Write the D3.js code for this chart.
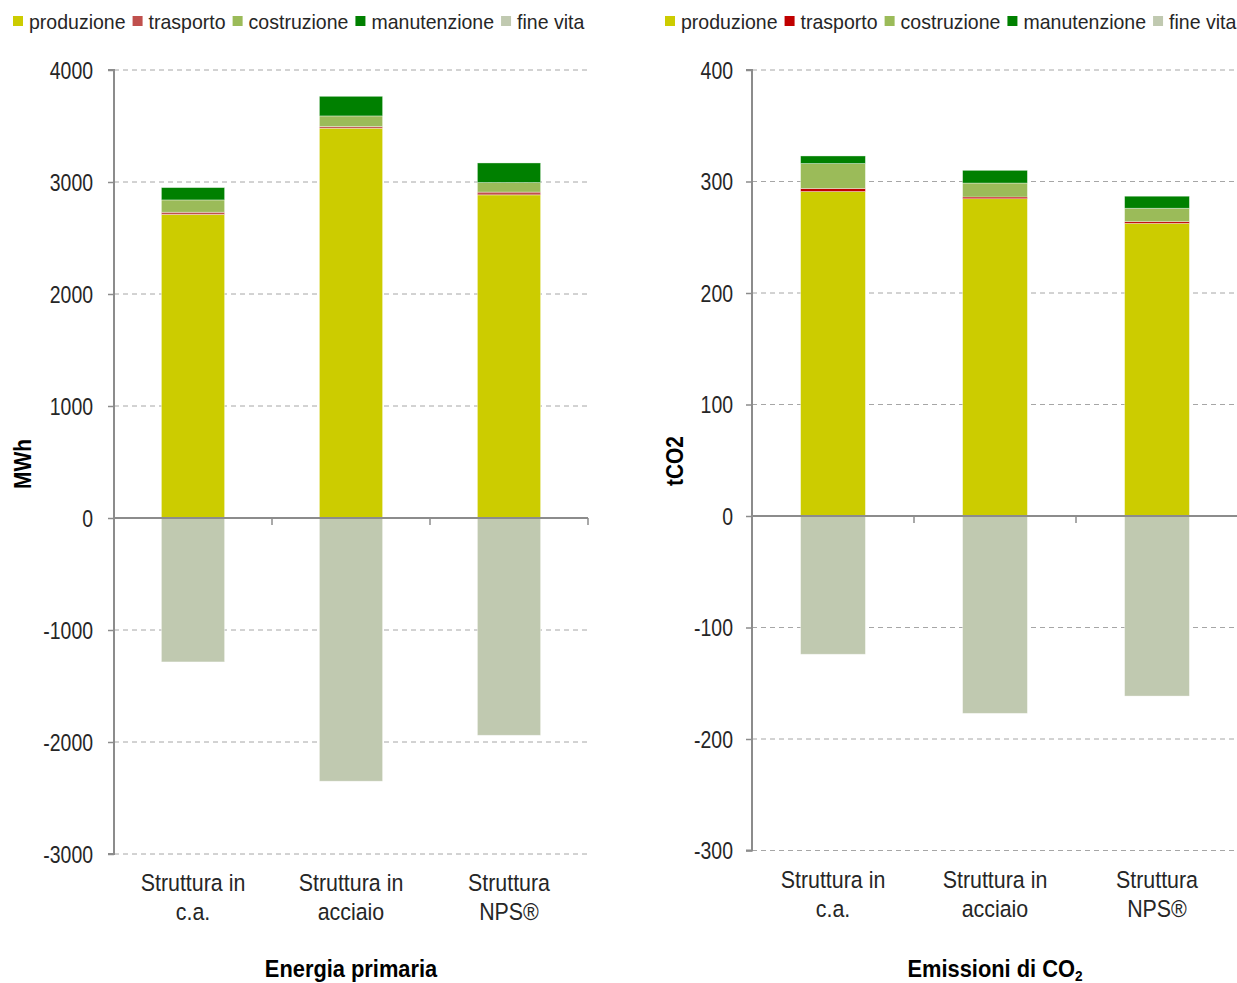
<!DOCTYPE html>
<html>
<head>
<meta charset="utf-8">
<script src="https://cdn.jsdelivr.net/npm/d3@7"></script>
<style>
  html, body { margin: 0; padding: 0; background: #fff; }
  svg { display: block; font-family: "Liberation Sans", Arial, sans-serif; }
</style>
</head>
<body>
<svg id="chart" width="1237" height="983"></svg>
<script>
// Categories (building structure types) and life-cycle phases
const categories = [["Struttura in", "c.a."], ["Struttura in", "acciaio"], ["Struttura", "NPS®"]];
const phases = ["produzione", "trasporto", "costruzione", "manutenzione", "fine vita"];

// Primary energy (MWh) per phase
const energiaProduzione   = [2710, 3480, 2885];
const energiaTrasporto    = [20, 15, 25];
const energiaCostruzione  = [110, 95, 85];
const energiaManutenzione = [110, 175, 175];
const energiaFineVita     = [-1285, -2350, -1940];

// CO2 emissions (tCO2) per phase
const co2Produzione   = [291, 284.6, 262.5];
const co2Trasporto    = [2.7, 1.5, 1.5];
const co2Costruzione  = [22.4, 12.5, 12];
const co2Manutenzione = [6.8, 11.4, 10.8];
const co2FineVita     = [-124, -177, -161.5];

const energiaTicks = [-3000, -2000, -1000, 0, 1000, 2000, 3000, 4000];
const co2Ticks = [-300, -200, -100, 0, 100, 200, 300, 400];

const energiaColors = ["#CCCC00", "#C0504D", "#9BBB59", "#008000", "#C0C9B0"];
const co2Colors     = ["#CCCC00", "#C00000", "#9BBB59", "#008000", "#C0C9B0"];

const svg = d3.select("#chart");

// Condensed text: horizontally squeezed sans-serif
function narrow(parent, x, y, str, o) {
  const g = parent.append("g").attr("transform", `translate(${x},${y}) scale(${o.sx},1)`);
  const t = g.append("text")
    .attr("text-anchor", o.anchor || "start")
    .attr("font-weight", o.weight || "normal")
    .attr("fill", o.fill || "#262626")
    .style("font-size", o.size + "px");
  if (str !== null) t.text(str);
  return { g, t };
}

function buildRows(series) {
  return categories.map((c, i) => {
    const row = { cat: i };
    phases.forEach((p, k) => { row[p] = series[k][i]; });
    return row;
  });
}

function drawPanel(opts) {
  const g = svg.append("g");
  const rows = buildRows(opts.series);
  const x = d3.scaleBand().domain(d3.range(categories.length)).range([opts.x0, opts.x1]).paddingInner(0.6).paddingOuter(0.3);
  const xb = d3.scaleBand().domain(d3.range(categories.length)).range([opts.x0, opts.x1]);
  const y = d3.scaleLinear().domain([opts.ticks[0], opts.ticks[opts.ticks.length - 1]]).range([opts.yBottom, opts.yTop]);

  // dashed gridlines
  g.append("g").selectAll("line").data(opts.ticks.filter(t => t !== 0)).join("line")
    .attr("x1", opts.x0).attr("x2", opts.x1)
    .attr("y1", d => y(d)).attr("y2", d => y(d))
    .attr("stroke", "#A6A6A6").attr("stroke-width", 1).attr("stroke-dasharray", "5,4");

  // stacked bars (positive phases above zero, end-of-life below)
  const stack = d3.stack().keys(phases).offset(d3.stackOffsetDiverging);
  const layers = stack(rows);
  g.append("g").selectAll("g").data(layers).join("g")
    .attr("fill", (d, i) => opts.colors[i])
    .selectAll("rect").data(d => d).join("rect")
    .attr("x", d => x(d.data.cat))
    .attr("width", x.bandwidth())
    .attr("y", d => y(Math.max(d[0], d[1])))
    .attr("height", d => Math.abs(y(d[0]) - y(d[1])))
    .attr("stroke", "rgba(255,255,255,0.45)").attr("stroke-width", 0.8);

  // y axis line and ticks
  const yAxis = d3.axisLeft(y).tickValues(opts.ticks).tickSize(6).tickFormat("");
  const ya = g.append("g").attr("transform", `translate(${opts.x0},0)`).call(yAxis);
  ya.select(".domain").attr("stroke", "#8C8C8C").attr("stroke-width", 2)
    .attr("d", `M-6,${y(opts.ticks[opts.ticks.length - 1])}H0V${y(opts.ticks[0])}H-6`);
  ya.selectAll(".tick line").attr("stroke", "#8C8C8C").attr("stroke-width", 1.5);
  opts.ticks.forEach(t => {
    narrow(g, opts.x0 - opts.tickGap, y(t) + 8.5, String(t), { size: 24, sx: 0.81, anchor: "end" });
  });

  // zero baseline with category separator ticks
  g.append("line").attr("x1", opts.x0).attr("x2", opts.x1).attr("y1", y(0)).attr("y2", y(0))
    .attr("stroke", "#8C8C8C").attr("stroke-width", 2);
  g.append("g").selectAll("line").data(d3.range(1, categories.length + 1)).join("line")
    .attr("x1", i => xb(i - 1) + xb.bandwidth()).attr("x2", i => xb(i - 1) + xb.bandwidth())
    .attr("y1", y(0)).attr("y2", y(0) + 7)
    .attr("stroke", "#8C8C8C").attr("stroke-width", 1.5);

  // category labels
  categories.forEach((c, i) => {
    const cx = x(i) + x.bandwidth() / 2;
    narrow(g, cx, opts.yBottom + 37, c[0], { size: 23.5, sx: 0.91, anchor: "middle" });
    narrow(g, cx, opts.yBottom + 66, c[1], { size: 23.5, sx: 0.91, anchor: "middle" });
  });

  // y axis title
  const yt = g.append("g").attr("transform", `translate(${opts.yTitleX},${opts.yTitleY}) rotate(-90)`);
  narrow(yt, 0, 0, opts.yTitle, { size: 23, sx: 0.91, anchor: "middle", weight: "bold", fill: "#000" });

  // x axis title
  const xt = narrow(g, (opts.x0 + opts.x1) / 2, 977, null, { size: 24, sx: 0.91, anchor: "middle", weight: "bold", fill: "#000" }).t;
  opts.xTitle.forEach(part => {
    const ts = xt.append("tspan").text(part.t);
    if (part.sub) ts.attr("dy", 4).style("font-size", "15px");
  });

  // legend
  const lg = g.append("g").attr("transform", `translate(${opts.legendX},21)`);
  let cx = 0;
  phases.forEach((p, i) => {
    lg.append("rect").attr("x", cx).attr("y", -5).attr("width", 10).attr("height", 10).attr("fill", opts.colors[i]);
    const n = narrow(lg, cx + 16, 8, p, { size: 21, sx: 0.93 });
    cx += 16 + n.t.node().getComputedTextLength() * 0.93 + 7;
  });
}

drawPanel({
  series: [energiaProduzione, energiaTrasporto, energiaCostruzione, energiaManutenzione, energiaFineVita],
  colors: energiaColors, ticks: energiaTicks,
  x0: 114, x1: 588, yTop: 70, yBottom: 854, tickGap: 21,
  yTitle: "MWh", yTitleX: 31, yTitleY: 464,
  xTitle: [{ t: "Energia primaria" }], legendX: 13
});

drawPanel({
  series: [co2Produzione, co2Trasporto, co2Costruzione, co2Manutenzione, co2FineVita],
  colors: co2Colors, ticks: co2Ticks,
  x0: 752, x1: 1238, yTop: 70, yBottom: 850.5, tickGap: 19,
  yTitle: "tCO2", yTitleX: 683, yTitleY: 461,
  xTitle: [{ t: "Emissioni di CO" }, { t: "2", sub: true }], legendX: 665
});
</script>
</body>
</html>
